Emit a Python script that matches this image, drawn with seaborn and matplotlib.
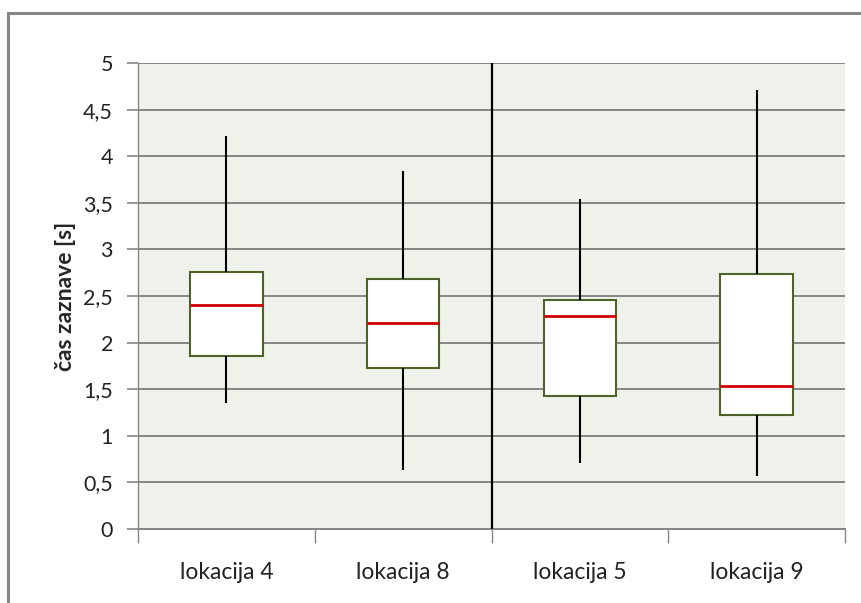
import pandas as pd
import matplotlib.pyplot as plt
import seaborn as sns
from matplotlib.patches import Rectangle

# five-number summaries (min, Q1, median, Q3, max)
locations = ["lokacija 4", "lokacija 8", "lokacija 5", "lokacija 9"]
whisker_low = [1.35, 0.63, 0.71, 0.57]
q1 = [1.86, 1.73, 1.43, 1.22]
median = [2.40, 2.21, 2.29, 1.53]
q3 = [2.76, 2.68, 2.46, 2.74]
whisker_high = [4.22, 3.84, 3.54, 4.71]
y_ticks = [0, 0.5, 1, 1.5, 2, 2.5, 3, 3.5, 4, 4.5, 5]
y_labels = ["0", "0,5", "1", "1,5", "2", "2,5", "3", "3,5", "4", "4,5", "5"]

# five points per group give exactly those quartiles; whis=(0,100) spans min..max
rows = []
for i, loc in enumerate(locations):
    for v in (whisker_low[i], q1[i], median[i], q3[i], whisker_high[i]):
        rows.append({"lokacija": loc, "cas": v})
df = pd.DataFrame(rows)

sns.set_style("white")
plt.rcParams["font.family"] = ["Lato", "DejaVu Sans"]

fig = plt.figure(figsize=(8.61, 6.03), dpi=100)
ax = fig.add_axes([0.1603, 0.1227, 0.8211, 0.7728])
ax.set_facecolor("#EFF2EA")

grid_c = "#868686"
for y in y_ticks:
    ax.axhline(y, color=grid_c, lw=1.4, zorder=0)

sns.boxplot(data=df, x="lokacija", y="cas", order=locations, whis=(0, 100),
            width=0.41, ax=ax, showcaps=False, zorder=2,
            boxprops=dict(facecolor="white", edgecolor="#4F6228", linewidth=1.5),
            medianprops=dict(color="#D00000", linewidth=2),
            whiskerprops=dict(color="black", linewidth=1.5),
            flierprops=dict(marker=""))

ax.axvline(1.5, color="black", lw=1.6, zorder=3)

ax.set_xlim(-0.5, 3.5)
ax.set_ylim(0, 5)
ax.set_yticks(y_ticks)
ax.set_yticklabels(y_labels, fontsize=15.5, color="#222222")
ax.tick_params(axis="y", length=8, color=grid_c, width=1.2, pad=10, left=True)
ax.set_xticks(range(len(locations)))
ax.set_xticklabels(locations, fontsize=16.5, color="#222222")
ax.set_xticks([-0.5, 0.5, 1.5, 2.5, 3.5], minor=True)
ax.tick_params(axis="x", which="major", length=0, pad=24)
ax.tick_params(axis="x", which="minor", length=10, color=grid_c, width=1.0, bottom=True)

ax.set_xlabel("")
ax.set_ylabel("čas zaznave [s]", fontsize=16.5, fontweight="bold", labelpad=5)

for s in ["top", "right"]:
    ax.spines[s].set_visible(False)
ax.spines["left"].set_color(grid_c)
ax.spines["left"].set_linewidth(1.0)
ax.spines["bottom"].set_color(grid_c)
ax.spines["bottom"].set_linewidth(1.4)

# outer chart border
fig.patches.append(Rectangle((8 / 861, -0.01), 1.0, (603 - 13) / 603 + 0.01,
                             transform=fig.transFigure, fill=False,
                             edgecolor="#868686", linewidth=2.2))

fig.savefig("out.png", dpi=100)
